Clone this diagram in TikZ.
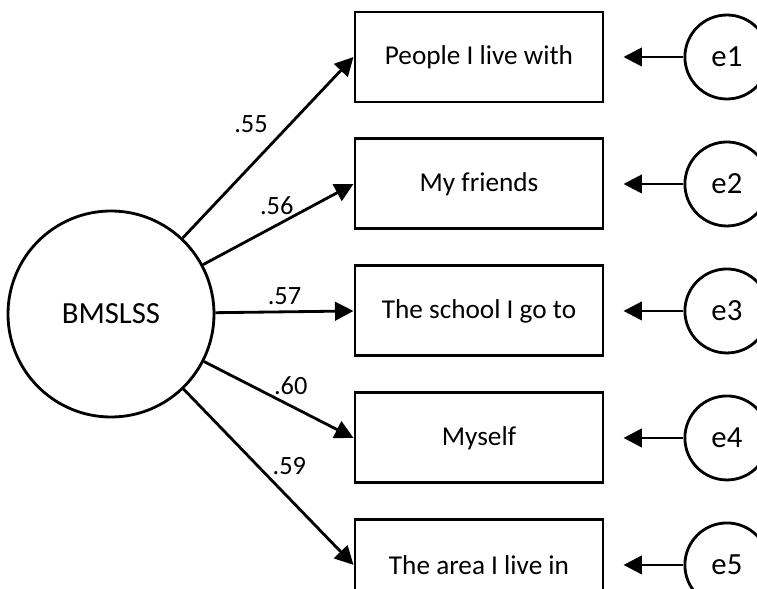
\documentclass[tikz,border=0pt]{standalone}
\usepackage{fontspec}
\setmainfont{Carlito}
\usetikzlibrary{arrows.meta,positioning}

\begin{document}
\begin{tikzpicture}[
    item/.style={draw,line width=1.7pt,minimum width=4.96cm,minimum height=1.8cm,
      inner sep=0pt,font=\fontsize{15.5}{18}\selectfont},
    latent/.style={draw,circle,line width=1.6pt,minimum size=4.12cm,inner sep=0pt,
      font=\fontsize{17.5}{20}\selectfont},
    err/.style={draw,circle,line width=1.6pt,minimum size=1.68cm,inner sep=0pt,
      font=\fontsize{17.5}{20}\selectfont},
    load/.style={font=\fontsize{15}{18}\selectfont},
    arr/.style={-{Triangle[length=0.37cm,width=0.37cm]},line width=1.6pt}
  ]
    \useasboundingbox (0,0) rectangle (15.14,-11.78);
    \node[latent] (bms) at (2.22,-6.28) {BMSLSS};
    \node[item] (live) at (9.58,-1.14) {People I live with};
    \node[item,below=0.68cm of live] (friends) {My friends};
    \node[item,below=0.68cm of friends] (school) {The school I go to};
    \node[item,below=0.68cm of school] (myself) {Myself};
    \node[item,below=0.68cm of myself] (area) {The area I live in};
    \node[err,right=1.58cm of live] (e1) {e1};
    \node[err,right=1.58cm of friends] (e2) {e2};
    \node[err,right=1.58cm of school] (e3) {e3};
    \node[err,right=1.58cm of myself] (e4) {e4};
    \node[err,right=1.58cm of area] (e5) {e5};
    % loadings
    \draw[arr] (bms) -- (live.west) node[load,pos=0.54,above left] {.55};
    \draw[arr] (bms) -- (friends.west) node[load,pos=0.49,above=2pt] {.56};
    \draw[arr] (bms) -- (school.west) node[load,pos=0.5,above] {.57};
    \draw[arr] (bms) -- (myself.west) node[load,pos=0.58,above=2pt] {.60};
    \draw[arr] (bms) -- (area.west) node[load,pos=0.44,right=4pt] {.59};
    % error terms
    \draw[arr,shorten >=0.38cm] (e1) -- (live);
    \draw[arr,shorten >=0.38cm] (e2) -- (friends);
    \draw[arr,shorten >=0.38cm] (e3) -- (school);
    \draw[arr,shorten >=0.38cm] (e4) -- (myself);
    \draw[arr,shorten >=0.38cm] (e5) -- (area);
  \end{tikzpicture}
\end{document}
